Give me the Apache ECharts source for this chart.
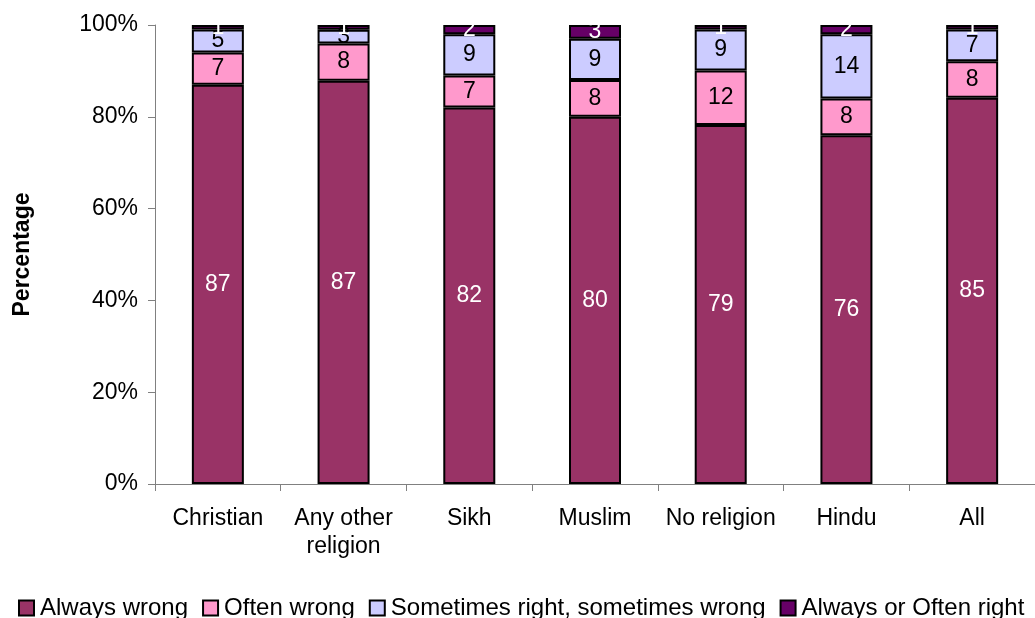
<!DOCTYPE html>
<html>
<head>
<meta charset="utf-8">
<script src="https://cdn.jsdelivr.net/npm/echarts@6/dist/echarts.min.js"></script>
<style>
  html, body { margin: 0; padding: 0; background: #fff; }
  #main { width: 1035px; height: 618px; }
</style>
</head>
<body>
<div id="main"></div>
<script>
// categories and raw values (percent, as printed on the bars)
var categories = ["Christian", "Any other\nreligion", "Sikh", "Muslim", "No religion", "Hindu", "All"];
var alwaysWrong = [87, 87, 82, 80, 79, 76, 85];
var oftenWrong = [7, 8, 7, 8, 12, 8, 8];
var sometimes = [5, 3, 9, 9, 9, 14, 7];
var alwaysOftenRight = [1, 1, 2, 3, 1, 2, 1];
var yTicks = [0, 20, 40, 60, 80, 100];

var seriesDefs = [
  { name: "Always wrong", data: alwaysWrong, color: "#993366", label: "#fff" },
  { name: "Often wrong", data: oftenWrong, color: "#ff99cc", label: "#000" },
  { name: "Sometimes right, sometimes wrong", data: sometimes, color: "#ccccff", label: "#000" },
  { name: "Always or Often right", data: alwaysOftenRight, color: "#660066", label: "#fff" }
];

// 100% stacked: each bar scaled to its column total
var totals = categories.map(function (c, i) {
  return seriesDefs.reduce(function (s, d) { return s + d.data[i]; }, 0);
});

var series = seriesDefs.map(function (d) {
  return {
    name: d.name,
    type: "bar",
    stack: "all",
    barWidth: 52,
    itemStyle: { color: d.color, borderColor: "#000", borderWidth: 2 },
    label: {
      show: true,
      position: "inside",
      color: d.label,
      fontSize: 23,
      fontFamily: "Liberation Sans, Arial",
      formatter: function (p) { return d.data[p.dataIndex]; }
    },
    data: d.data.map(function (v, i) { return v / totals[i] * 100; })
  };
});

var myChart = echarts.init(document.getElementById("main"));
myChart.setOption({
  animation: false,
  textStyle: { fontFamily: "Liberation Sans, Arial" },
  grid: { left: 155, top: 25, bottom: 134, width: 889 },
  legend: {
    top: 596,
    left: 18,
    width: 1017,
    padding: 0,
    icon: "rect",
    itemWidth: 15,
    itemHeight: 15,
    itemGap: 14,
    textStyle: { fontSize: 24, color: "#000", padding: [0, 0, 0, 1] },
    itemStyle: { borderColor: "#000", borderWidth: 2 },
    data: seriesDefs.map(function (d) { return d.name; })
  },
  xAxis: {
    type: "category",
    data: categories,
    axisLine: { lineStyle: { color: "#808080", width: 1 } },
    axisTick: { show: true, length: 7, lineStyle: { color: "#808080" } },
    axisLabel: { color: "#000", fontSize: 23, margin: 21, lineHeight: 28, interval: 0 }
  },
  yAxis: {
    type: "value",
    min: 0,
    max: 100,
    interval: 20,
    name: "Percentage",
    nameLocation: "middle",
    nameGap: 121,
    nameRotate: 90,
    nameTextStyle: { fontSize: 23, fontWeight: "bold", color: "#000" },
    axisLine: { show: true, lineStyle: { color: "#808080" } },
    axisTick: { show: true, length: 7, lineStyle: { color: "#808080" } },
    splitLine: { show: false },
    axisLabel: {
      color: "#000",
      fontSize: 23,
      margin: 17,
      formatter: function (v) { return yTicks.indexOf(v) >= 0 ? v + "%" : ""; }
    }
  },
  series: series
});
</script>
</body>
</html>
